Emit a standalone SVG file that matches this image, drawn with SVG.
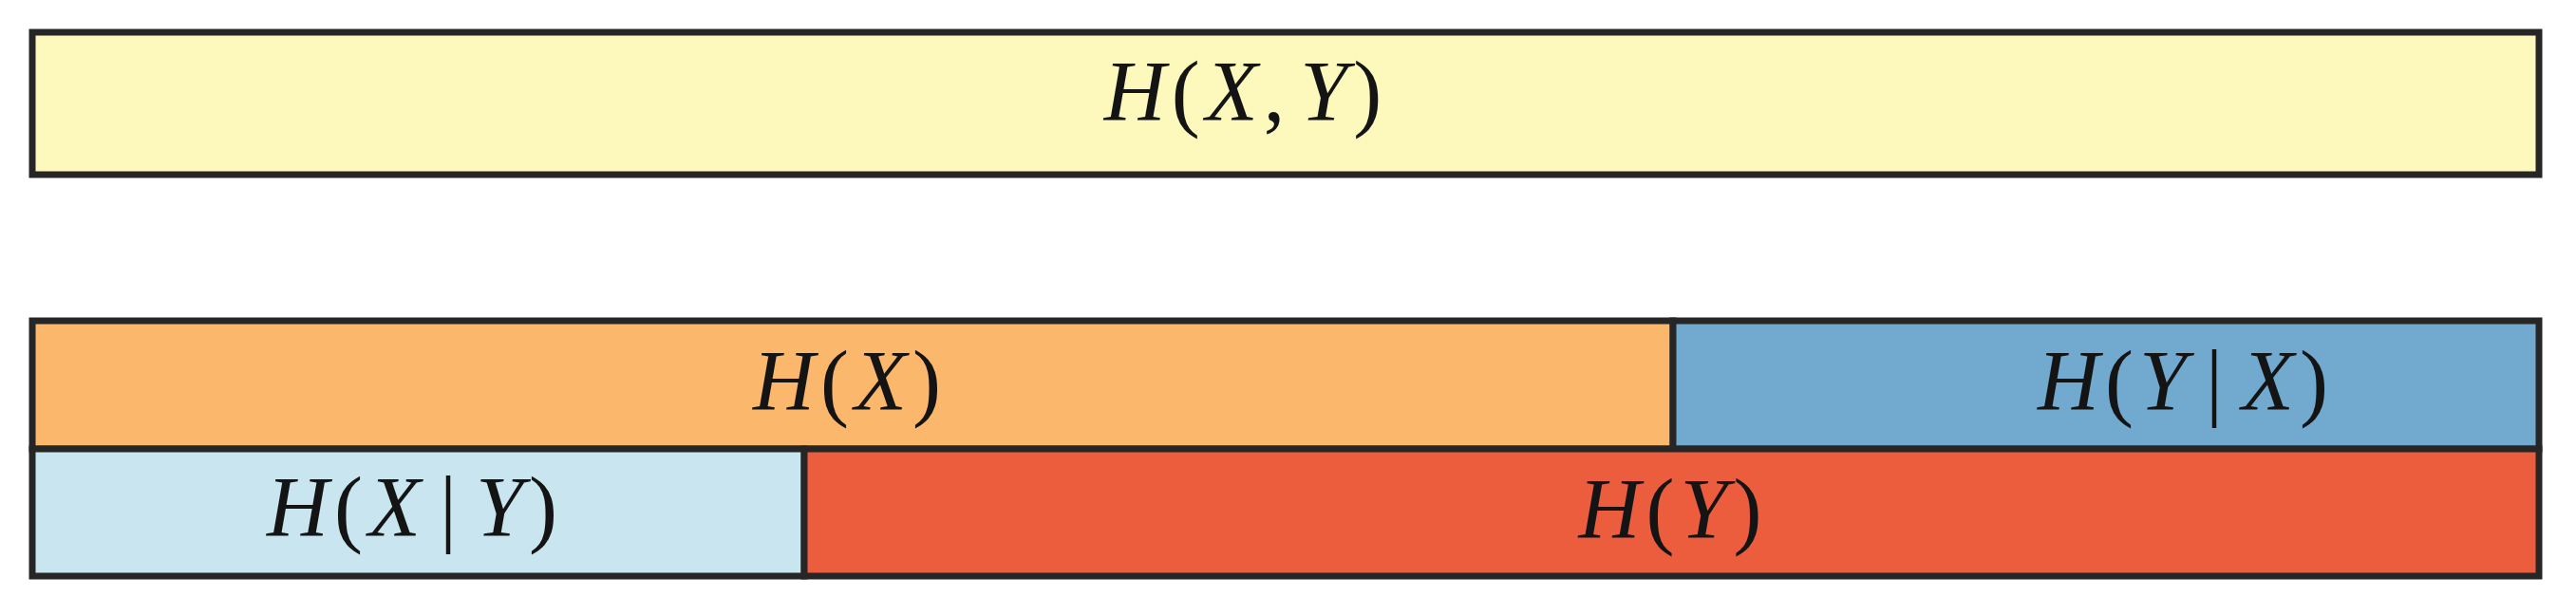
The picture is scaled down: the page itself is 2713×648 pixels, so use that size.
<svg xmlns="http://www.w3.org/2000/svg" width="2713" height="648" viewBox="0 0 2713 648">
<style>
.box{stroke:#262626;stroke-width:7}
.lbl{font-family:"Liberation Serif","Times New Roman",serif;font-size:90px;fill:#141414;letter-spacing:6px}
.i{font-style:italic}
</style>
<rect width="2713" height="648" fill="#ffffff"/>
<g id="HXY">
<rect class="box" x="34" y="34" width="2640" height="150" fill="#FDF8BB"/>
<text class="lbl" x="1312" y="127" text-anchor="middle"><tspan class="i">H</tspan>(<tspan class="i">X</tspan>,<tspan class="i" dx="10">Y</tspan>)</text>
</g>
<g id="HX">
<rect class="box" x="34" y="338" width="1728" height="135" fill="#FBB76B"/>
<text class="lbl" x="895" y="432" text-anchor="middle"><tspan class="i">H</tspan>(<tspan class="i">X</tspan>)</text>
</g>
<g id="HYgX">
<rect class="box" x="1762" y="338" width="912" height="135" fill="#71A9CF"/>
<text class="lbl" x="2302" y="432" text-anchor="middle"><tspan class="i">H</tspan>(<tspan class="i">Y</tspan><tspan dx="14">|</tspan><tspan class="i" dx="14">X</tspan>)</text>
</g>
<g id="HXgY">
<rect class="box" x="34" y="473" width="813" height="134" fill="#C9E6F0"/>
<text class="lbl" x="437" y="565" text-anchor="middle"><tspan class="i">H</tspan>(<tspan class="i">X</tspan><tspan dx="14">|</tspan><tspan class="i" dx="14">Y</tspan>)</text>
</g>
<g id="HY">
<rect class="box" x="847" y="473" width="1827" height="134" fill="#EB5D3D"/>
<text class="lbl" x="1762" y="567" text-anchor="middle"><tspan class="i">H</tspan>(<tspan class="i">Y</tspan>)</text>
</g>
</svg>
